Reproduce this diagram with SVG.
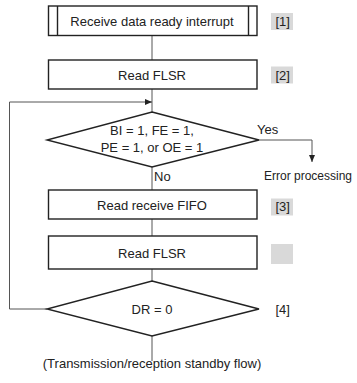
<svg xmlns="http://www.w3.org/2000/svg" width="357" height="383" viewBox="0 0 357 383">
<defs>
<marker id="ah" markerWidth="8" markerHeight="8" refX="7" refY="4" orient="auto" markerUnits="userSpaceOnUse">
<path d="M0,1 L7,4 L0,7 Z" fill="#222"/>
</marker>
<style>
text{font-family:"Liberation Sans",Arial,sans-serif;font-size:13px;fill:#222}
.mid{text-anchor:middle}
.box{fill:#fff;stroke:#222;stroke-width:1.4}
.con{fill:none;stroke:#555;stroke-width:1}
.tag{fill:#d9d9d9}
</style>
</defs>
<rect width="357" height="383" fill="#fff"/>
<g id="connectors">
<line class="con" x1="152" y1="36" x2="152" y2="60"/>
<line class="con" x1="152" y1="89" x2="152" y2="112"/>
<line class="con" x1="152" y1="167" x2="152" y2="190"/>
<line class="con" x1="152" y1="219" x2="152" y2="236"/>
<line class="con" x1="152" y1="269" x2="152" y2="281"/>
<line class="con" x1="152" y1="336" x2="152" y2="361"/>
<polyline class="con" points="47,309 9.5,309 9.5,102 152,102" marker-end="url(#ah)"/>
<polyline class="con" points="259,140 312,140 312,162" marker-end="url(#ah)"/>
<text x="257" y="134">Yes</text>
<text x="154" y="181">No</text>
</g>
<g id="n1">
<rect class="box" x="48.5" y="6" width="208.5" height="29.5"/>
<line class="box" x1="57.5" y1="6" x2="57.5" y2="35.5"/>
<line class="box" x1="248.5" y1="6" x2="248.5" y2="35.5"/>
<text class="mid" x="152" y="26">Receive data ready interrupt</text>
<rect class="tag" x="271" y="13" width="22" height="17"/>
<text x="275.5" y="26">[1]</text>
</g>
<g id="n2">
<rect class="box" x="48.5" y="60" width="208.5" height="29"/>
<text class="mid" x="152" y="80">Read FLSR</text>
<rect class="tag" x="271" y="66.5" width="22" height="17"/>
<text x="275.5" y="80">[2]</text>
</g>
<g id="d1">
<polygon class="box" points="152,112 259,140 152,167 47,140"/>
<text class="mid" x="152" y="135">BI = 1, FE = 1,</text>
<text class="mid" x="152" y="152">PE = 1, or OE = 1</text>
</g>
<g id="err">
<text x="264" y="180" style="font-size:12px">Error processing</text>
</g>
<g id="n3">
<rect class="box" x="48.5" y="190" width="208.5" height="29"/>
<text class="mid" x="152" y="210">Read receive FIFO</text>
<rect class="tag" x="271" y="198.5" width="22" height="17"/>
<text x="275.5" y="211">[3]</text>
</g>
<g id="n4">
<rect class="box" x="48.5" y="236" width="208.5" height="33"/>
<text class="mid" x="152" y="258">Read FLSR</text>
<rect class="tag" x="271" y="244" width="22" height="20"/>
</g>
<g id="d2">
<polygon class="box" points="152,281 259,309 152,336 47,309"/>
<text class="mid" x="152" y="314">DR = 0</text>
<text x="275.5" y="314">[4]</text>
</g>
<g id="end">
<text class="mid" x="152" y="368">(Transmission/reception standby flow)</text>
</g>
</svg>
